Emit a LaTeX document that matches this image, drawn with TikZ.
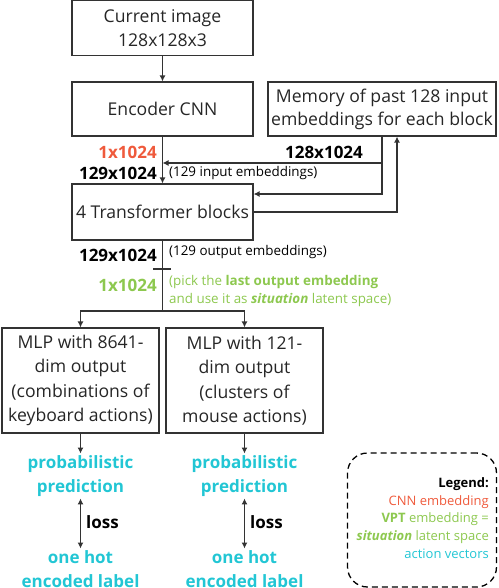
\documentclass[tikz,border=0pt]{standalone}
\usepackage{fontspec}
\setmainfont{Open Sans}
\usetikzlibrary{arrows.meta}
\definecolor{cred}{HTML}{EF5A3C}
\definecolor{cgreen}{HTML}{8DC84F}
\definecolor{ccyan}{HTML}{22C6D4}
\definecolor{linec}{HTML}{333333}
\newcommand\fmain{\fontsize{17.6}{24}\selectfont}
\newcommand\fsmall{\fontsize{13.4}{17.5}\selectfont}
\newcommand\flab{\fontsize{17}{23.5}\selectfont\bfseries}
\begin{document}
\begin{tikzpicture}[x=1pt,y=-1pt,
  box/.style={draw=linec, line width=1.1pt, align=center, inner sep=2pt, font=\fmain, text=black!85},
  arr/.style={draw=linec, line width=1.2pt, -{Latex[length=6pt,width=6pt]}},
  dbl/.style={draw=linec, line width=1.2pt, {Latex[length=6pt,width=6pt]}-{Latex[length=6pt,width=6pt]}},
  ln/.style={draw=linec, line width=1.2pt},
  lab/.style={font=\flab, inner sep=0pt},
  small/.style={font=\fsmall, inner sep=0pt, align=left},
  outtext/.style={font=\flab, text=ccyan, align=center, inner sep=2pt}]
\useasboundingbox (0,0) rectangle (498,588);
% boxes
\node[box, minimum width=181pt, minimum height=55pt] (cur) at (162.5,28) {Current image\\128x128x3};
\node[box, minimum width=181pt, minimum height=54pt] (enc) at (162.5,109) {Encoder CNN};
\node[box, minimum width=228pt, minimum height=54pt, font=\fontsize{17.6}{23}\selectfont] (mem) at (382,109) {Memory of past 128 input\\embeddings for each block};
\node[box, minimum width=181pt, minimum height=56pt] (tr) at (162.5,212) {4 Transformer blocks};
\node[box, minimum width=157pt, minimum height=105pt, font=\fontsize{17.6}{24.5}\selectfont] (mlp1) at (80.5,380.5) {MLP with 8641-\\dim output\\(combinations of\\keyboard actions)};
\node[box, minimum width=157pt, minimum height=105pt, font=\fontsize{17.6}{24.5}\selectfont] (mlp2) at (244.5,380.5) {MLP with 121-\\dim output\\(clusters of\\mouse actions)};
% coordinates
\coordinate (mx) at (382,0);
\coordinate (mx2) at (397,0);
\coordinate (ya) at (0,163);
\coordinate (yb) at (0,194);
\coordinate (yc) at (0,212);
\coordinate (split) at (162.5,311);
\coordinate (tickl) at (153,269);
\coordinate (tickr) at (171,269);
% connectors
\draw[arr] (cur) -- (enc);
\draw[arr] (enc) -- (tr);
\draw[arr] (mem.south -| mx) |- (enc.south |- ya);
\draw[arr] (mx |- ya) |- (tr.east |- yb);
\draw[arr] (tr.east |- yc) -| (mem.south -| mx2);
\draw[ln] (tr.south) -- (split);
\draw[ln] (tickl) -- (tickr);
\draw[arr] (split) -| (mlp1.north);
\draw[arr] (split) -| (mlp2.north);
% labels
\node[lab, text=cred, anchor=east] (l1) at (157,152) {1x1024};
\node[lab, anchor=east] (l2) at (157,173) {129x1024};
\node[small, anchor=west] (l3) at (169,173) {(129 input embeddings)};
\node[lab] (l4) at (324,152) {128x1024};
\node[lab, anchor=east] (l5) at (157,255) {129x1024};
\node[small, anchor=west] (l6) at (169,252) {(129 output embeddings)};
\node[lab, text=cgreen, anchor=east] (l7) at (157,285) {1x1024};
\node[small, text=cgreen, anchor=west] (l8) at (169,291) {(pick the \textbf{last output embedding}\\and use it as \textbf{\textit{situation}} latent space)};
% outputs
\node[outtext] (p1) at (80.5,476) {probabilistic\\prediction};
\node[outtext] (p2) at (244.5,476) {probabilistic\\prediction};
\node[outtext] (o1) at (80.5,569) {one hot\\encoded label};
\node[outtext] (o2) at (244.5,569) {one hot\\encoded label};
\draw[arr] (mlp1) -- (p1);
\draw[arr] (mlp2) -- (p2);
\draw[dbl] (p1) -- (o1);
\draw[dbl] (p2) -- (o2);
\node[lab, anchor=west] (loss1) at (86,522) {loss};
\node[lab, anchor=west] (loss2) at (250,522) {loss};
% legend
\node[draw=black, line width=1.3pt, dash pattern=on 6pt off 4pt, rounded corners=20pt, minimum width=149pt, minimum height=134pt] (leg) at (422,520) {};
\node[font=\fontsize{13}{17.6}\selectfont, align=right, anchor=east, inner sep=0pt] (legt) at (489,518) {\textbf{Legend:}\\\textcolor{cred}{CNN embedding}\\\textcolor{cgreen}{\textbf{VPT} embedding =}\\\textcolor{cgreen}{\textbf{\textit{situation}} latent space}\\\textcolor{ccyan}{action vectors}};
\end{tikzpicture}
\end{document}
